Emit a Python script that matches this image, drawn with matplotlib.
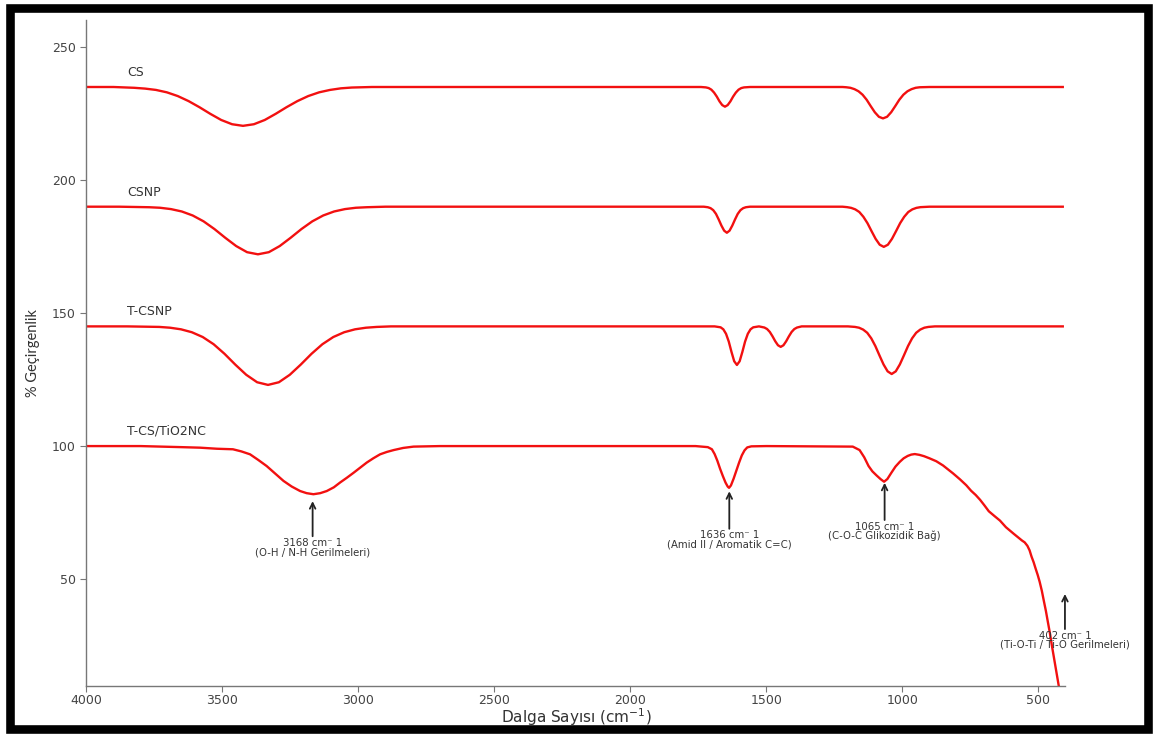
import matplotlib
matplotlib.use("Agg")
import matplotlib.pyplot as plt
from matplotlib.patches import Rectangle

# wavenumber (cm-1) / transmittance
cs_wn = [4000, 3900, 3824, 3784, 3744, 3704, 3664, 3624, 3584, 3544, 3504, 3464, 3424, 3384, 3344, 3304,
         3264, 3224, 3184, 3144, 3104, 3064, 3024, 2950,
         1740, 1722, 1712, 1702, 1692, 1682, 1672, 1662, 1652, 1642, 1632, 1622, 1612, 1602, 1592, 1582, 1560,
         1220, 1206, 1191, 1176, 1161, 1146, 1131, 1116, 1101, 1086, 1071, 1056, 1041, 1026, 1011, 996, 981,
         966, 951, 936, 900, 410]
cs_t = [235, 235, 234.7, 234.4, 233.9, 233.0, 231.6, 229.7, 227.4, 224.9, 222.6, 221.0, 220.4, 221.0, 222.6, 224.9,
        227.4, 229.7, 231.6, 233.0, 233.9, 234.5, 234.8, 235,
        235, 234.85, 234.6, 234.0, 232.9, 231.4, 229.6, 228.2, 227.6, 228.2, 229.6, 231.4, 232.9, 234.0, 234.6, 234.85, 235,
        235, 234.9, 234.7, 234.2, 233.4, 232.1, 230.2, 227.8, 225.5, 223.8, 223.2, 223.8, 225.5, 227.8, 230.2, 232.1, 233.4,
        234.2, 234.7, 234.9, 235, 235]

csnp_wn = [4000, 3880, 3769, 3729, 3689, 3649, 3609, 3569, 3529, 3489, 3449, 3409, 3369, 3329, 3289, 3249,
           3209, 3169, 3129, 3089, 3049, 3009, 2969, 2900,
           1730, 1715, 1705, 1695, 1685, 1675, 1665, 1655, 1645, 1635, 1625, 1615, 1605, 1595, 1585, 1575, 1560,
           1220, 1203, 1188, 1173, 1158, 1143, 1128, 1113, 1098, 1083, 1068, 1053, 1038, 1023, 1008, 993, 978,
           963, 948, 933, 900, 410]
csnp_t = [190, 190, 189.8, 189.6, 189.1, 188.2, 186.7, 184.5, 181.6, 178.3, 175.2, 172.9, 172.1, 172.9, 175.2, 178.3,
          181.6, 184.5, 186.7, 188.2, 189.1, 189.6, 189.8, 190,
          190, 189.8, 189.45, 188.7, 187.3, 185.2, 182.9, 181.0, 180.2, 181.0, 182.9, 185.2, 187.3, 188.7, 189.45, 189.8, 190,
          190, 189.83, 189.56, 189.0, 188.0, 186.2, 183.8, 180.8, 177.9, 175.7, 174.9, 175.7, 177.9, 180.8, 183.8, 186.2, 188.0,
          189.0, 189.56, 189.83, 190, 190]

tcsnp_wn = [4000, 3850, 3732, 3692, 3652, 3612, 3572, 3532, 3492, 3452, 3412, 3372, 3332, 3292, 3252, 3212,
            3172, 3132, 3092, 3052, 3012, 2972, 2932, 2880,
            1690, 1668, 1658, 1648, 1638, 1628, 1618, 1608, 1598, 1588, 1578, 1568, 1558, 1548, 1527,
            1507, 1497, 1487, 1477, 1467, 1457, 1447, 1437, 1427, 1417, 1407, 1397, 1387, 1370,
            1200, 1174, 1159, 1144, 1129, 1114, 1099, 1084, 1069, 1054, 1039, 1024, 1009, 994, 979, 964, 949,
            934, 919, 904, 880, 410]
tcsnp_t = [145, 145, 144.8, 144.5, 143.9, 142.8, 141.0, 138.3, 134.7, 130.6, 126.8, 124.0, 123.0, 124.0, 126.8, 130.6,
           134.7, 138.3, 141.0, 142.8, 143.9, 144.5, 144.8, 145,
           145, 144.65, 143.9, 142.2, 139.3, 135.4, 131.9, 130.5, 131.9, 135.4, 139.3, 142.2, 143.9, 144.65, 145,
           144.57, 144.0, 142.9, 141.25, 139.4, 137.9, 137.3, 137.9, 139.4, 141.25, 142.9, 144.0, 144.57, 145,
           145, 144.8, 144.5, 143.8, 142.6, 140.5, 137.6, 134.1, 130.7, 128.1, 127.1, 128.1, 130.7, 134.1, 137.6, 140.5, 142.6,
           143.8, 144.5, 144.8, 145, 145]

tio2_wn = [4000, 3800, 3650, 3582, 3520, 3461, 3430, 3398, 3368, 3337, 3306, 3275, 3245, 3214, 3190, 3165,
           3140, 3116, 3090, 3067, 3042, 3017, 2993, 2969, 2945, 2920, 2895, 2870, 2835, 2797, 2700,
           1760, 1715, 1700, 1690, 1680, 1670, 1660, 1650, 1642, 1637, 1630, 1620, 1610, 1600, 1590, 1580,
           1570, 1555, 1500,
           1182, 1157, 1140, 1124, 1110, 1095, 1080, 1067, 1055, 1040, 1025, 1009, 995, 980, 967, 954, 937,
           920, 900, 875, 850, 813, 788, 765, 747, 730, 714, 698, 682, 660, 641, 619, 590,
           560, 550, 540, 532, 525, 517, 510, 502, 495, 487, 480, 472, 465, 457, 450, 440, 425, 415]
tio2_t = [100, 100, 99.6, 99.4, 99.0, 98.8, 98.0, 96.9, 94.8, 92.5, 89.7, 86.9, 84.8, 83.1, 82.3, 81.9,
          82.3, 83.1, 84.5, 86.3, 88.1, 90.0, 91.9, 93.8, 95.4, 96.9, 97.8, 98.5, 99.3, 99.8, 100,
          100, 99.6, 98.8, 97.0, 94.5, 91.5, 88.8, 86.3, 84.8, 84.3, 85.2, 87.8, 90.8, 93.8, 96.5, 98.4,
          99.5, 99.9, 100,
          99.8, 98.5, 95.8, 92.5, 90.5, 89.0, 87.6, 86.6, 87.6, 90.0, 92.3, 94.1, 95.4, 96.3, 96.8, 97.0, 96.7,
          96.2, 95.4, 94.3, 92.7, 89.7, 87.5, 85.3, 83.2, 81.6, 79.8, 77.7, 75.5, 73.6, 72.0, 69.5, 67.0,
          64.5, 63.8, 62.5, 60.8, 58.5, 56.3, 54.0, 51.5, 49.0, 45.6, 42.0, 38.0, 34.0, 29.5, 25.0, 19.0, 10.0, 5.0]

series = [("CS", cs_wn, cs_t, 235),
          ("CSNP", csnp_wn, csnp_t, 190),
          ("T-CSNP", tcsnp_wn, tcsnp_t, 145),
          ("T-CS/TiO2NC", tio2_wn, tio2_t, 100)]

# peak annotations: x, arrow head, arrow tail, label
peaks = [(3168, 79.3, 66.1, "3168 cm\u207b 1\n(O-H / N-H Gerilmeleri)"),
         (1636, 83.0, 68.9, "1636 cm\u207b 1\n(Amid II / Aromatik C=C)"),
         (1065, 86.2, 72.2, "1065 cm\u207b 1\n(C-O-C Glikozidik Ba\u011f)"),
         (402, 44.4, 31.2, "402 cm\u207b 1\n(Ti-O-Ti / Ti-O Gerilmeleri)")]

fig = plt.figure(figsize=(11.54, 7.37), dpi=100)
ax = fig.add_axes([0.0748, 0.0692, 0.8485, 0.9037])

for name, wn, t, base in series:
    ax.plot(wn, t, color="#f21010", lw=1.7)
    ax.text(3850, base + 5.5, name, fontsize=9, color="#333333", va="center", ha="left")

for x, head, tail, label in peaks:
    ax.annotate("", xy=(x, head), xytext=(x, tail),
                arrowprops=dict(arrowstyle="->", color="#222222", lw=1.3, shrinkA=0, shrinkB=0))
    ax.text(x, tail - 0.6, label, fontsize=7.3, color="#333333", ha="center", va="top",
            linespacing=0.9)

ax.set_xlim(4000, 400)
ax.set_ylim(9.8, 260.2)
ax.set_xticks([4000, 3500, 3000, 2500, 2000, 1500, 1000, 500])
ax.set_yticks([50, 100, 150, 200, 250])

for side in ["top", "right"]:
    ax.spines[side].set_visible(False)
for side in ["left", "bottom"]:
    ax.spines[side].set_color("#777777")
    ax.spines[side].set_linewidth(1.0)
ax.tick_params(axis="both", colors="#777777", labelcolor="#444444", labelsize=9, length=4, width=0.8)
ax.tick_params(axis="x", pad=2)

ax.set_xlabel("Dalga Sayısı (cm$^{-1}$)", fontsize=11, color="#333333", labelpad=-1)
ax.set_ylabel("% Geçirgenlik", fontsize=10.5, color="#333333", labelpad=9,
              family=["Lato", "DejaVu Sans"])

# black frame round the picture
fig.patches.append(Rectangle((10 / 1154, 8 / 737), 1138 / 1154, 721 / 737, transform=fig.transFigure,
                             fill=False, edgecolor="black", lw=6.2))

fig.savefig("out.png", dpi=100)
